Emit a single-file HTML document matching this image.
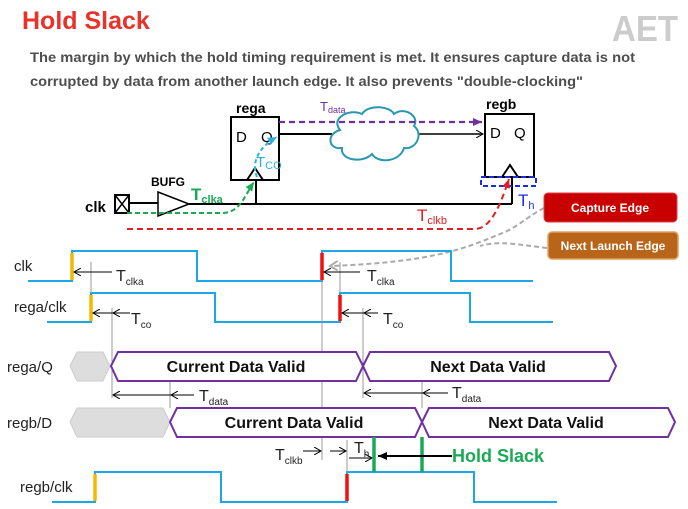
<!DOCTYPE html>
<html><head><meta charset="utf-8"><style>
html,body{margin:0;padding:0;background:#fff;}
svg{display:block;font-family:"Liberation Sans",sans-serif;}
</style></head><body>
<svg width="688" height="509" viewBox="0 0 688 509" xmlns="http://www.w3.org/2000/svg">
<defs>
<marker id="ab" markerWidth="8" markerHeight="8" refX="7" refY="4" orient="auto" markerUnits="userSpaceOnUse"><path d="M0,0 L7,4 L0,8" fill="none" stroke="#000" stroke-width="1"/></marker>
<marker id="af" markerWidth="10" markerHeight="10" refX="9" refY="5" orient="auto" markerUnits="userSpaceOnUse"><path d="M0,1 L9,5 L0,9 z" fill="context-stroke"/></marker>
<marker id="ag" markerWidth="10" markerHeight="10" refX="8" refY="5" orient="auto" markerUnits="userSpaceOnUse"><path d="M0,0 L8,5 L0,10" fill="none" stroke="#aaa" stroke-width="2"/></marker>
</defs>
<text x="22" y="29" font-size="25" font-weight="bold" fill="#e8322a">Hold Slack</text>
<text x="612" y="41" font-size="36" font-weight="bold" fill="#ccc" textLength="66" lengthAdjust="spacingAndGlyphs">AET</text>
<text x="30" y="62" font-size="14" font-weight="bold" fill="#3a3a3a" textLength="605" lengthAdjust="spacingAndGlyphs" opacity="0.9">The margin by which the hold timing requirement is met. It ensures  capture data is not</text>
<text x="30" y="86" font-size="14" font-weight="bold" fill="#3a3a3a" textLength="553" lengthAdjust="spacingAndGlyphs" opacity="0.9">corrupted by data from another launch edge. It  also prevents "double-clocking"</text>

<!-- circuit -->
<text x="236" y="113" font-size="14" font-weight="bold">rega</text>
<text x="486" y="109" font-size="14" font-weight="bold">regb</text>
<rect x="231" y="117" width="48" height="63" fill="#fff" stroke="#000" stroke-width="2"/>
<rect x="485" y="114" width="49" height="63" fill="#fff" stroke="#000" stroke-width="2"/>
<text x="236" y="142" font-size="15">D</text><text x="261" y="142" font-size="15">Q</text>
<text x="490" y="138" font-size="15">D</text><text x="514" y="138" font-size="15">Q</text>
<path d="M247,180 L255,168 L263,180" fill="none" stroke="#000" stroke-width="2"/>
<path d="M502,177 L510,165 L518,177" fill="none" stroke="#000" stroke-width="2"/>
<line x1="279" y1="134" x2="332" y2="134" stroke="#000" stroke-width="2"/>
<line x1="416" y1="134" x2="483" y2="134" stroke="#000" stroke-width="1.5" marker-end="url(#ab)"/>
<path d="M340,130 C330,118 350,108 362,114 C368,104 390,106 394,114 C404,106 420,116 414,126 C424,134 416,150 404,148 C400,162 378,164 372,154 C362,164 340,160 342,148 C328,150 326,134 340,130 z" fill="#fff" stroke="#2a97b0" stroke-width="2"/>
<line x1="279" y1="122" x2="482" y2="122" stroke="#7030a0" stroke-width="2.2" stroke-dasharray="6,4" marker-end="url(#af)"/>
<text x="320" y="111" font-size="13" fill="#7030a0">T<tspan font-size="9" dy="2">data</tspan></text>
<rect x="115" y="195" width="14" height="18" fill="#fff" stroke="#000" stroke-width="2"/>
<path d="M115,195 L129,213 M129,195 L115,213" stroke="#000" stroke-width="1.5"/>
<text x="85" y="212" font-size="15" font-weight="bold">clk</text>
<line x1="129" y1="203" x2="158" y2="203" stroke="#000" stroke-width="2"/>
<path d="M158,192 L189,204 L158,216 z" fill="#fff" stroke="#000" stroke-width="1.5"/>
<text x="151" y="186" font-size="12" font-weight="bold">BUFG</text>
<line x1="189" y1="204" x2="512" y2="204" stroke="#000" stroke-width="2"/>
<line x1="256" y1="204" x2="256" y2="180" stroke="#000" stroke-width="2"/>
<line x1="512" y1="204" x2="512" y2="178" stroke="#000" stroke-width="2"/>
<path d="M127,213 L222,213 C240,213 245,195 254,182" fill="none" stroke="#1aaa55" stroke-width="2" stroke-dasharray="5,3" marker-end="url(#af)"/>
<text x="191" y="200" font-size="17" font-weight="bold" fill="#1aaa55">T<tspan font-size="11" dy="3">clka</tspan></text>
<path d="M257,177 C250,160 262,145 277,137" fill="none" stroke="#2ab0e0" stroke-width="2" stroke-dasharray="4,3" marker-end="url(#af)"/>
<text x="256" y="167" font-size="15" fill="#2ab0e0">T<tspan font-size="11" dy="2">CO</tspan></text>
<rect x="481" y="177" width="55" height="9" fill="none" stroke="#1a2ee0" stroke-width="2" stroke-dasharray="5,3"/>
<text x="518" y="206" font-size="17" fill="#1a2ee0">T<tspan font-size="11" dy="3">h</tspan></text>
<path d="M127,229 L475,229 C492,229 502,200 509,179" fill="none" stroke="#e02020" stroke-width="2" stroke-dasharray="6,4" marker-end="url(#af)"/>
<text x="417" y="221" font-size="17" fill="#e02020">T<tspan font-size="11" dy="3">clkb</tspan></text>
<path d="M544,208 C530,215 520,225 505,232 C470,246 440,262 330,266" fill="none" stroke="#aaa" stroke-width="2" stroke-dasharray="5,3" marker-end="url(#ag)"/>
<path d="M547,248 C520,245 500,240 480,246" fill="none" stroke="#aaa" stroke-width="2" stroke-dasharray="5,3"/>
<rect x="544" y="193" width="133" height="29" rx="4" fill="#c80000" stroke="#e04040"/>
<text x="610" y="212" font-size="12" font-weight="bold" fill="#fff" text-anchor="middle">Capture Edge</text>
<rect x="548" y="232" width="130" height="27" rx="4" fill="#b8651a" stroke="#e0a060" stroke-width="1.5"/>
<text x="613" y="250" font-size="12" font-weight="bold" fill="#fff" text-anchor="middle">Next Launch Edge</text>

<!-- waveforms -->
<g font-size="15" fill="#222">
<text x="14" y="271">clk</text>
<text x="14" y="312">rega/clk</text>
<text x="7" y="372">rega/Q</text>
<text x="7" y="428">regb/D</text>
<text x="20" y="492">regb/clk</text>
</g>
<g fill="none" stroke="#1ca8e6" stroke-width="2">
<path d="M28,281 L72,281 L72,251 L197,251 L197,281 L322,281 L322,251 L451,251 L451,281 L533,281"/>
<path d="M47,322 L91,322 L91,293 L215,293 L215,322 L340,322 L340,293 L470,293 L470,322 L553,322"/>
<path d="M52,502 L95,502 L95,472 L221,472 L221,502 L347,502 L347,472 L474,472 L474,502 L557,502"/>
</g>
<g stroke-width="3.5">
<line x1="72" y1="253" x2="72" y2="280" stroke="#f5b800"/>
<line x1="91" y1="295" x2="91" y2="321" stroke="#f5b800"/>
<line x1="95" y1="474" x2="95" y2="501" stroke="#f5b800"/>
<line x1="322" y1="253" x2="322" y2="280" stroke="#f01010"/>
<line x1="340" y1="295" x2="340" y2="321" stroke="#f01010"/>
<line x1="347" y1="474" x2="347" y2="501" stroke="#f01010"/>
</g>
<g stroke="#999" stroke-width="1">
<line x1="91" y1="262" x2="91" y2="293"/>
<line x1="112" y1="308" x2="112" y2="398"/>
<line x1="170" y1="382" x2="170" y2="408"/>
<line x1="322" y1="281" x2="322" y2="460"/>
<line x1="340" y1="262" x2="340" y2="293"/>
<line x1="363" y1="308" x2="363" y2="398"/>
<line x1="422" y1="380" x2="422" y2="408"/>
<line x1="347" y1="440" x2="347" y2="472"/>
</g>
<g stroke="#000" stroke-width="1" fill="none">
<line x1="112" y1="272" x2="74" y2="272" marker-end="url(#ab)"/>
<line x1="130" y1="313" x2="93" y2="313" marker-end="url(#ab)"/>
<line x1="130" y1="313" x2="113" y2="313" marker-end="url(#ab)"/>
<line x1="360" y1="272" x2="324" y2="272" marker-end="url(#ab)"/>
<line x1="378" y1="313" x2="342" y2="313" marker-end="url(#ab)"/>
<line x1="378" y1="313" x2="364" y2="313" marker-end="url(#ab)"/>
<line x1="194" y1="395" x2="113" y2="395" marker-end="url(#ab)"/>
<line x1="194" y1="395" x2="171" y2="395" marker-end="url(#ab)"/>
<line x1="448" y1="393" x2="364" y2="393" marker-end="url(#ab)"/>
<line x1="448" y1="393" x2="423" y2="393" marker-end="url(#ab)"/>
<line x1="303" y1="451" x2="321" y2="451" marker-end="url(#ab)"/>
<line x1="330" y1="451" x2="346" y2="451" marker-end="url(#ab)"/>
<line x1="349" y1="458" x2="372" y2="458" marker-end="url(#ab)"/>
</g>
<g font-size="16" fill="#222">
<text x="116" y="281">T<tspan font-size="10" dy="4">clka</tspan></text>
<text x="367" y="281">T<tspan font-size="10" dy="4">clka</tspan></text>
<text x="131" y="324">T<tspan font-size="10" dy="4">co</tspan></text>
<text x="383" y="324">T<tspan font-size="10" dy="4">co</tspan></text>
<text x="199" y="401">T<tspan font-size="10" dy="4">data</tspan></text>
<text x="452" y="398">T<tspan font-size="10" dy="4">data</tspan></text>
<text x="275" y="460">T<tspan font-size="10" dy="4">clkb</tspan></text>
<text x="354" y="453">T<tspan font-size="10" dy="4">h</tspan></text>
</g>
<!-- buses -->
<path d="M70,366 L77,352 L103,352 L110,366 L103,381 L77,381 z" fill="#ddd" stroke="#ccc"/>
<path d="M70,422 L77,408 L163,408 L170,422 L163,437 L77,437 z" fill="#ddd" stroke="#ccc"/>
<g fill="#fff" stroke="#7030a0" stroke-width="2">
<path d="M111,366 L118,352 L356,352 L363,366 L356,381 L118,381 z"/>
<path d="M363,366 L370,352 L609,352 L616,366 L609,381 L370,381 z"/>
<path d="M170,422 L177,408 L415,408 L422,422 L415,437 L177,437 z"/>
<path d="M422,422 L429,408 L668,408 L675,422 L668,437 L429,437 z"/>
</g>
<g font-size="16" font-weight="600" fill="#111" text-anchor="middle">
<text x="236" y="372">Current Data Valid</text>
<text x="488" y="372">Next Data Valid</text>
<text x="294" y="428">Current Data Valid</text>
<text x="546" y="428">Next Data Valid</text>
</g>
<line x1="374" y1="437" x2="374" y2="472" stroke="#1aaa55" stroke-width="3.5"/>
<line x1="422" y1="437" x2="422" y2="472" stroke="#1aaa55" stroke-width="3.5"/>
<line x1="452" y1="456" x2="378" y2="456" stroke="#000" stroke-width="2" marker-end="url(#af)"/>
<text x="452" y="462" font-size="18" font-weight="bold" fill="#1aaa55">Hold Slack</text>
</svg>
</body></html>
